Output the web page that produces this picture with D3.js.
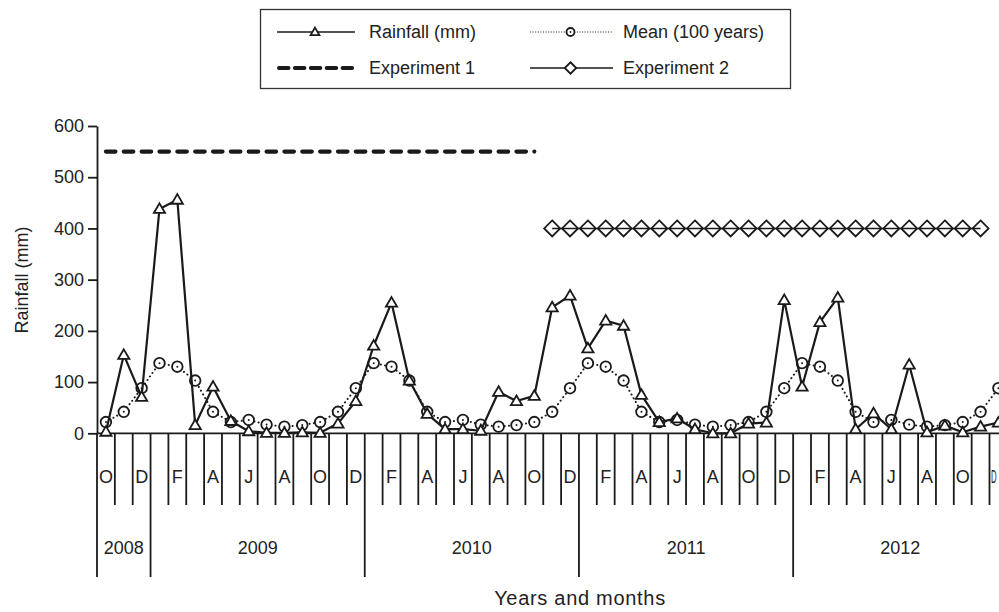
<!DOCTYPE html>
<html>
<head>
<meta charset="utf-8">
<script src="https://cdn.jsdelivr.net/npm/d3@7/dist/d3.min.js"></script>
<style>
  html, body { margin: 0; padding: 0; background: #fff; }
  svg { display: block; }
  text { font-family: "Liberation Sans", Arial, Helvetica, sans-serif; fill: #222; }
</style>
</head>
<body>
<svg id="chart" width="999" height="612"></svg>
<script>
// Monthly periods, October 2008 to December 2012
const periods = [
  "2008-10","2008-11","2008-12",
  "2009-01","2009-02","2009-03","2009-04","2009-05","2009-06","2009-07","2009-08","2009-09","2009-10","2009-11","2009-12",
  "2010-01","2010-02","2010-03","2010-04","2010-05","2010-06","2010-07","2010-08","2010-09","2010-10","2010-11","2010-12",
  "2011-01","2011-02","2011-03","2011-04","2011-05","2011-06","2011-07","2011-08","2011-09","2011-10","2011-11","2011-12",
  "2012-01","2012-02","2012-03","2012-04","2012-05","2012-06","2012-07","2012-08","2012-09","2012-10","2012-11","2012-12"
];

// Month initials shown under the axis (every other month is labelled)
const monthLetters = [
  "O","N","D",
  "J","F","M","A","M","J","J","A","S","O","N","D",
  "J","F","M","A","M","J","J","A","S","O","N","D",
  "J","F","M","A","M","J","J","A","S","O","N","D",
  "J","F","M","A","M","J","J","A","S","O","N","D"
];

// Year groups along the axis
const years = ["2008", "2009", "2010", "2011", "2012"];
const yearFirstPeriod = ["2008-10", "2009-01", "2010-01", "2011-01", "2012-01"];
const yearLastPeriod = ["2008-12", "2009-12", "2010-12", "2011-12", "2012-12"];

// Monthly rainfall (mm)
const rainfall = [
  3, 153, 71,
  438, 456, 16, 91, 24, 4, 1, 1, 2, 1, 19, 63,
  171, 255, 103, 38, 8, 8, 5, 81, 63, 73, 246, 269,
  166, 220, 210, 75, 22, 29, 8, 0, 0, 19, 21, 260,
  91, 217, 265, 8, 39, 8, 134, 2, 15, 2, 13, 21
];

// 100-year monthly mean rainfall (mm)
const mean100 = [
  22, 42, 88,
  137, 130, 103, 42, 22, 26, 17, 13, 16, 22, 42, 88,
  137, 130, 103, 42, 22, 26, 17, 13, 16, 22, 42, 88,
  137, 130, 103, 42, 22, 26, 17, 13, 16, 22, 42, 88,
  137, 130, 103, 42, 22, 26, 17, 13, 16, 22, 42, 88
];

// Experiment periods, drawn at a fixed level
const experiment1Periods = periods.slice(0, 25);   // Oct 2008 - Oct 2010
const experiment1 = [550, 550, 550, 550, 550, 550, 550, 550, 550, 550, 550, 550, 550,
                     550, 550, 550, 550, 550, 550, 550, 550, 550, 550, 550, 550];
const experiment2Periods = periods.slice(25, 50);  // Nov 2010 - Nov 2012
const experiment2 = [400, 400, 400, 400, 400, 400, 400, 400, 400, 400, 400, 400, 400,
                     400, 400, 400, 400, 400, 400, 400, 400, 400, 400, 400, 400];

const yTicks = [0, 100, 200, 300, 400, 500, 600];

const W = 999;
const ink = "#1a1a1a";
const svg = d3.select("#chart");

const x = d3.scaleBand().domain(periods).range([97, 97 + 51 * 17.85]).padding(0);
const y = d3.scaleLinear().domain([0, 600]).range([433.3, 126]);
const cx = p => x(p) + x.bandwidth() / 2;

// ---- Y axis ----
const yAxis = svg.append("g")
  .attr("transform", "translate(97,0)")
  .call(d3.axisLeft(y).tickValues(yTicks).tickSize(9).tickSizeOuter(0).tickPadding(4));
yAxis.select(".domain").attr("stroke", ink).attr("stroke-width", 1.8);
yAxis.selectAll(".tick line").attr("stroke", ink).attr("stroke-width", 1.8);
yAxis.selectAll(".tick text")
  .attr("font-size", 18)
  .style("font-family", "'Liberation Sans', Arial, sans-serif")
  .attr("fill", "#222");

svg.append("text")
  .attr("transform", "translate(22,280) rotate(-90)")
  .attr("text-anchor", "middle")
  .attr("dominant-baseline", "central")
  .attr("font-size", 18)
  .text("Rainfall (mm)");

// ---- X axis: baseline, month ticks, year separators ----
const xEnd = x.range()[1];
svg.append("line")
  .attr("x1", 97).attr("x2", xEnd)
  .attr("y1", y(0)).attr("y2", y(0))
  .attr("stroke", ink).attr("stroke-width", 1.8);

const boundaries = periods.map(p => x(p)).concat([xEnd]);
svg.append("g").selectAll("line")
  .data(boundaries)
  .join("line")
  .attr("x1", d => d).attr("x2", d => d)
  .attr("y1", y(0)).attr("y2", 505)
  .attr("stroke", ink).attr("stroke-width", 1.8);

const yearEdges = yearFirstPeriod.map(p => x(p)).concat([xEnd]);
svg.append("g").selectAll("line")
  .data(yearEdges)
  .join("line")
  .attr("x1", d => d).attr("x2", d => d)
  .attr("y1", 505).attr("y2", 577)
  .attr("stroke", ink).attr("stroke-width", 1.8);

// Month initials; the last band runs past the right edge, so its label is
// narrowed to fit inside the visible part of the band.
svg.append("g").selectAll("text")
  .data(periods.filter((p, i) => i % 2 === 0))
  .join("text")
  .each(function (d) {
    const t = d3.select(this);
    const left = x(d), right = left + x.bandwidth();
    if (right > W) {
      t.attr("x", left + 1.4)
        .attr("text-anchor", "start")
        .attr("textLength", 5.6)
        .attr("lengthAdjust", "spacingAndGlyphs");
    } else {
      t.attr("x", cx(d)).attr("text-anchor", "middle");
    }
  })
  .attr("y", 477)
  .attr("dominant-baseline", "central")
  .attr("font-size", 18)
  .text(d => monthLetters[periods.indexOf(d)]);

svg.append("g").selectAll("text")
  .data(years)
  .join("text")
  .attr("x", (d, i) => (x(yearFirstPeriod[i]) + x(yearLastPeriod[i]) + x.bandwidth()) / 2)
  .attr("y", 548)
  .attr("text-anchor", "middle")
  .attr("dominant-baseline", "central")
  .attr("font-size", 18)
  .text(d => d);

svg.append("text")
  .attr("x", 580)
  .attr("y", 598)
  .attr("text-anchor", "middle")
  .attr("dominant-baseline", "central")
  .attr("font-size", 20)
  .attr("letter-spacing", 0.7)
  .text("Years and months");

// ---- Marker shapes ----
const triPath = s => `M0,${-5.6 * s}L${5.6 * s},${4 * s}L${-5.6 * s},${4 * s}Z`;
const diaPath = s => `M0,${-8 * s}L${8 * s},0L0,${8 * s}L${-8 * s},0Z`;

// ---- Experiment 1 (dashed level) ----
svg.append("path")
  .datum(experiment1Periods.map((p, i) => [cx(p), y(experiment1[i])]))
  .attr("d", d3.line())
  .attr("fill", "none")
  .attr("stroke", ink)
  .attr("stroke-width", 4.2)
  .attr("stroke-linecap", "round")
  .attr("stroke-dasharray", "9.5,8.35");

// ---- Experiment 2 (line with diamonds) ----
svg.append("path")
  .datum(experiment2Periods.map((p, i) => [cx(p), y(experiment2[i])]))
  .attr("d", d3.line())
  .attr("fill", "none")
  .attr("stroke", ink)
  .attr("stroke-width", 1.6);
svg.append("g").selectAll("path")
  .data(experiment2Periods)
  .join("path")
  .attr("transform", (p, i) => `translate(${cx(p)},${y(experiment2[i])})`)
  .attr("d", diaPath(1))
  .attr("fill", "none")
  .attr("stroke", ink)
  .attr("stroke-width", 1.8);

// ---- 100-year mean (dotted line with circles) ----
svg.append("path")
  .datum(periods.map((p, i) => [cx(p), y(mean100[i])]))
  .attr("d", d3.line())
  .attr("fill", "none")
  .attr("stroke", ink)
  .attr("stroke-width", 2)
  .attr("stroke-linecap", "round")
  .attr("stroke-dasharray", "0.1,4.2");
const meanPts = svg.append("g").selectAll("g")
  .data(periods)
  .join("g")
  .attr("transform", (p, i) => `translate(${cx(p)},${y(mean100[i])})`);
meanPts.append("circle").attr("r", 5.3).attr("fill", "#fff").attr("stroke", ink).attr("stroke-width", 1.8);
meanPts.append("circle").attr("r", 1).attr("fill", ink);

// ---- Rainfall (solid line with triangles) ----
svg.append("path")
  .datum(periods.map((p, i) => [cx(p), y(rainfall[i])]))
  .attr("d", d3.line())
  .attr("fill", "none")
  .attr("stroke", ink)
  .attr("stroke-width", 2.2)
  .attr("stroke-linejoin", "round");
svg.append("g").selectAll("path")
  .data(periods)
  .join("path")
  .attr("transform", (p, i) => `translate(${cx(p)},${y(rainfall[i])})`)
  .attr("d", triPath(1))
  .attr("fill", "#fff")
  .attr("stroke", ink)
  .attr("stroke-width", 1.8)
  .attr("stroke-linejoin", "miter");

// ---- Legend ----
const lg = svg.append("g");
lg.append("rect")
  .attr("x", 260.5).attr("y", 9.5).attr("width", 530).attr("height", 79)
  .attr("fill", "#fff").attr("stroke", "#333").attr("stroke-width", 1.3);

const legendItems = [
  { label: "Rainfall (mm)", x0: 277, x1: 355, y: 32, kind: "rain" },
  { label: "Mean (100 years)", x0: 530, x1: 613, y: 32, kind: "mean" },
  { label: "Experiment 1", x0: 277, x1: 355, y: 68, kind: "exp1" },
  { label: "Experiment 2", x0: 530, x1: 613, y: 68, kind: "exp2" }
];

legendItems.forEach(it => {
  const mid = (it.x0 + it.x1) / 2 - 1;
  const ln = lg.append("line")
    .attr("x1", it.x0).attr("x2", it.x1)
    .attr("y1", it.y).attr("y2", it.y)
    .attr("stroke", ink);
  if (it.kind === "rain") {
    ln.attr("stroke-width", 1.5);
    lg.append("path").attr("transform", `translate(${mid},${it.y})`)
      .attr("d", triPath(0.78)).attr("fill", "#fff").attr("stroke", ink).attr("stroke-width", 1.8);
  } else if (it.kind === "mean") {
    ln.attr("stroke-width", 1.1).attr("stroke-dasharray", "1,1.6");
    lg.append("circle").attr("cx", mid).attr("cy", it.y).attr("r", 4)
      .attr("fill", "#fff").attr("stroke", ink).attr("stroke-width", 1.8);
    lg.append("circle").attr("cx", mid).attr("cy", it.y).attr("r", 0.9).attr("fill", ink);
  } else if (it.kind === "exp1") {
    ln.attr("x1", it.x0 + 2).attr("x2", it.x1 - 2)
      .attr("stroke-width", 4).attr("stroke-linecap", "round").attr("stroke-dasharray", "9.5,6.4");
  } else {
    ln.attr("stroke-width", 1.5);
    lg.append("path").attr("transform", `translate(${mid},${it.y})`)
      .attr("d", diaPath(0.72)).attr("fill", "#fff").attr("stroke", ink).attr("stroke-width", 1.8);
  }
  lg.append("text")
    .attr("x", it.kind === "rain" || it.kind === "exp1" ? 369 : 623)
    .attr("y", it.y)
    .attr("dominant-baseline", "central")
    .attr("font-size", 18)
    .text(it.label);
});
</script>
</body>
</html>
